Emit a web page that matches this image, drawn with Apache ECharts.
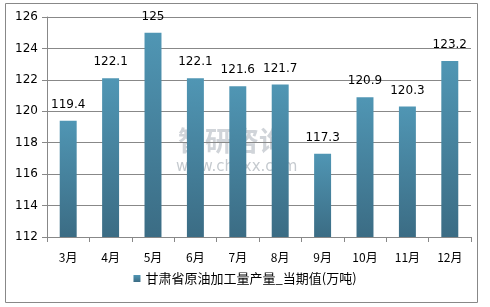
<!DOCTYPE html>
<html><head><meta charset="utf-8">
<script src="https://cdn.jsdelivr.net/npm/echarts@6/dist/echarts.min.js"></script>
<style>html,body{margin:0;padding:0;background:#fff}#c{width:490px;height:307px}</style>
</head><body><div id="c"></div>
<script>
var categories = ['3月','4月','5月','6月','7月','8月','9月','10月','11月','12月'];
var values = [119.4,122.1,125,122.1,121.6,121.7,117.3,120.9,120.3,123.2];
var seriesName = '甘肃省原油加工量产量_当期值(万吨)';
var yMin = 112, yMax = 126, yStep = 2;

var chart = echarts.init(document.getElementById('c'));
chart.setOption({
  animation: false,
  graphic: [
    {type:'rect', shape:{x:5.5,y:3.5,width:472,height:299}, style:{fill:'none',stroke:'#888',lineWidth:1}},
    {type:'text', left:178, top:127, style:{text:'智研咨询', font:'bold 27px "Noto Sans CJK SC"', fill:'rgba(150,160,170,0.45)'}},
    {type:'text', left:176, top:160, style:{text:'www.chyxx.com', font:'15px "DejaVu Sans"', fill:'rgba(140,150,160,0.5)'}}
  ],
  grid: {left:47, right:19, top:17, bottom:70},
  legend: {
    data:[seriesName], bottom:17, left:'center', itemWidth:7, itemHeight:7, itemGap:4,
    icon:'rect', textStyle:{fontSize:13, color:'#000', fontFamily:'"Noto Sans CJK SC"'}
  },
  xAxis: {
    type:'category', data:categories,
    axisLine:{lineStyle:{color:'#888'}},
    axisTick:{show:true, length:5, lineStyle:{color:'#888'}},
    axisLabel:{color:'#000', fontSize:12, margin:14, fontFamily:'"Noto Sans CJK SC"'}
  },
  yAxis: {
    type:'value', min:yMin, max:yMax, interval:yStep,
    axisLine:{show:true, lineStyle:{color:'#888'}},
    axisTick:{show:true, length:5, inside:false, lineStyle:{color:'#888'}},
    splitLine:{lineStyle:{color:'#888'}},
    axisLabel:{color:'#000', fontSize:12, margin:9, fontFamily:'"DejaVu Sans"'}
  },
  series: [{
    name: seriesName, type:'bar', data: values, barWidth:'40%',
    itemStyle:{color:new echarts.graphic.LinearGradient(0,0,0,1,[{offset:0,color:'#5096b4'},{offset:1,color:'#3b6c84'}])},
    label:{show:true, position:'top', distance:10, color:'#000', fontSize:12, fontFamily:'"DejaVu Sans"'}
  }]
});
</script></body></html>
